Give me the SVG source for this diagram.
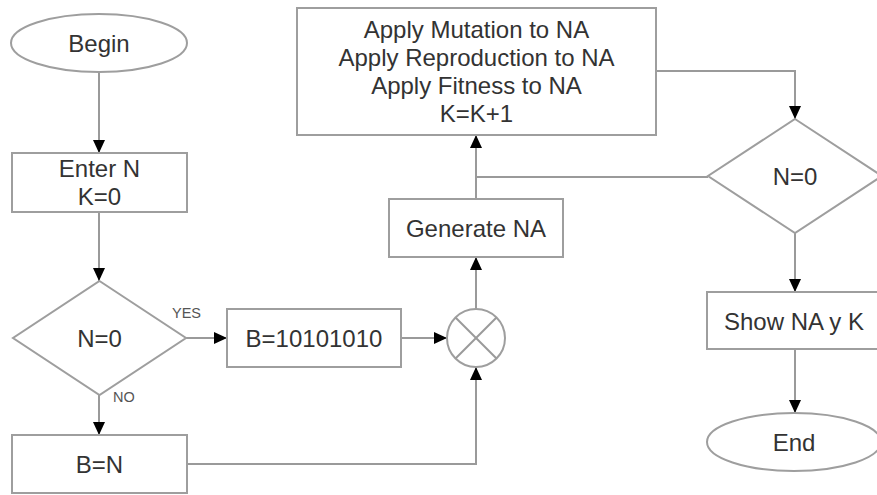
<svg xmlns="http://www.w3.org/2000/svg" width="877" height="495" viewBox="0 0 877 495">
<style>
.s{fill:#fff;stroke:#9e9e9e;stroke-width:2}
.c{fill:none;stroke:#9a9a9a;stroke-width:2}
.t{font-family:"Liberation Sans",Arial,sans-serif;font-size:24px;fill:#333;text-anchor:middle}
.l{font-family:"Liberation Sans",Arial,sans-serif;font-size:14.5px;fill:#555}
</style>
<defs>
<marker id="a" markerUnits="userSpaceOnUse" markerWidth="14" markerHeight="14" viewBox="0 0 14 14" refX="13" refY="7" orient="auto">
<path d="M0,1 L13,7 L0,13 Z" fill="#000"/>
</marker>
</defs>
<rect width="877" height="495" fill="#fff"/>
<g id="connectors">
<line class="c" x1="99" y1="72" x2="99" y2="153" marker-end="url(#a)"/>
<line class="c" x1="99" y1="212" x2="99" y2="281" marker-end="url(#a)"/>
<line class="c" x1="186" y1="338" x2="227" y2="338" marker-end="url(#a)"/>
<line class="c" x1="99" y1="395" x2="99" y2="435" marker-end="url(#a)"/>
<polyline class="c" points="187,464 476,464 476,367" marker-end="url(#a)"/>
<line class="c" x1="401" y1="338" x2="447" y2="338" marker-end="url(#a)"/>
<line class="c" x1="476" y1="309" x2="476" y2="257" marker-end="url(#a)"/>
<line class="c" x1="476" y1="199" x2="476" y2="135" marker-end="url(#a)"/>
<polyline class="c" points="708,177 476,177"/>
<polyline class="c" points="656,71 795,71 795,119" marker-end="url(#a)"/>
<line class="c" x1="795" y1="233" x2="795" y2="292" marker-end="url(#a)"/>
<line class="c" x1="795" y1="349" x2="795" y2="413" marker-end="url(#a)"/>
<text class="l" x="172" y="318">YES</text>
<text class="l" x="113" y="402">NO</text>
</g>
<g id="begin">
<ellipse class="s" cx="99" cy="43" rx="88" ry="29"/>
<text class="t" x="99" y="52">Begin</text>
</g>
<g id="enter">
<rect class="s" x="12" y="153" width="175" height="59"/>
<text class="t" x="99.5" y="177">Enter N</text>
<text class="t" x="99.5" y="205">K=0</text>
</g>
<g id="decision1">
<polygon class="s" points="99.5,281 186,338 99.5,395 13,338"/>
<text class="t" x="99.5" y="347">N=0</text>
</g>
<g id="b_const">
<rect class="s" x="227" y="309" width="174" height="58"/>
<text class="t" x="314" y="347">B=10101010</text>
</g>
<g id="b_n">
<rect class="s" x="12" y="435" width="175" height="58"/>
<text class="t" x="99.5" y="473">B=N</text>
</g>
<g id="join">
<circle class="s" cx="476" cy="338" r="29"/>
<line class="c" x1="455.5" y1="317.5" x2="496.5" y2="358.5"/>
<line class="c" x1="496.5" y1="317.5" x2="455.5" y2="358.5"/>
</g>
<g id="generate">
<rect class="s" x="389" y="199" width="174" height="58"/>
<text class="t" x="476" y="237">Generate NA</text>
</g>
<g id="apply">
<rect class="s" x="297" y="8" width="359" height="127"/>
<text class="t" x="476.5" y="38">Apply Mutation to NA</text>
<text class="t" x="476.5" y="66">Apply Reproduction to NA</text>
<text class="t" x="476.5" y="94">Apply Fitness to NA</text>
<text class="t" x="476.5" y="122">K=K+1</text>
</g>
<g id="decision2">
<polygon class="s" points="795,119 882,176 795,233 708,176"/>
<text class="t" x="795" y="185">N=0</text>
</g>
<g id="show">
<rect class="s" x="707" y="292" width="175" height="57"/>
<text class="t" x="794" y="330">Show NA y K</text>
</g>
<g id="end">
<ellipse class="s" cx="794" cy="442" rx="87" ry="29"/>
<text class="t" x="794" y="451">End</text>
</g>
</svg>
